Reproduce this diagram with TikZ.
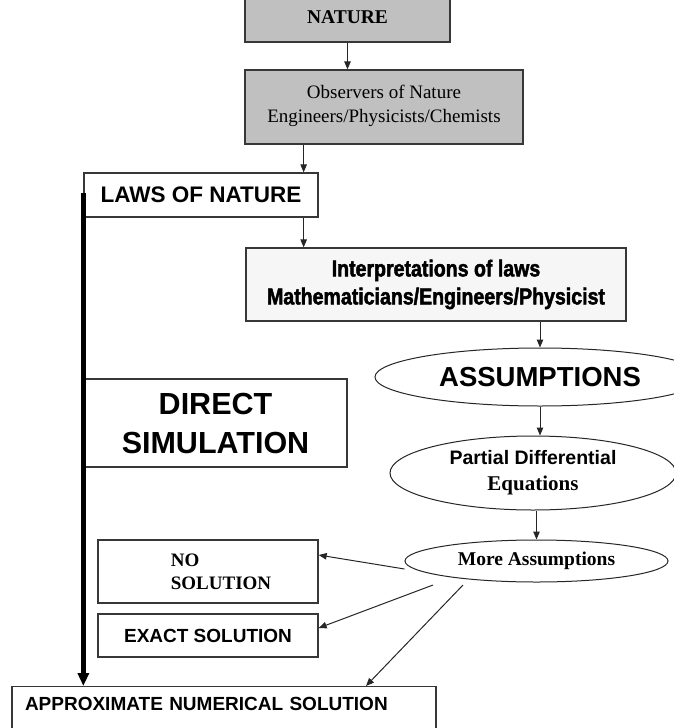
\documentclass[tikz,border=0pt]{standalone}
\usepackage{fontspec}
\setmainfont{Liberation Serif}
\newfontfamily\arialfont{Liberation Sans}
\newfontfamily\condfont[FakeStretch=0.85,FakeBold=2]{Liberation Sans}
\usetikzlibrary{arrows.meta,positioning,shapes.geometric}
\definecolor{boxgray}{RGB}{192,192,192}
\definecolor{boxlight}{RGB}{246,246,246}
\definecolor{edgegray}{RGB}{55,55,55}

\begin{document}
\begin{tikzpicture}[x=1pt, y=-1pt,
    plainbox/.style={rectangle, draw=edgegray, line width=1.3pt, inner sep=0pt, align=center},
    graybox/.style={plainbox, fill=boxgray},
    oval/.style={ellipse, draw=black!85, line width=1pt, inner sep=0pt, align=center},
    flow/.style={-{Triangle[length=8pt,width=6.5pt]}, line width=1pt, black!85},
    simflow/.style={-{Triangle[length=13pt,width=11pt]}, line width=4.5pt}
  ]
    \useasboundingbox (0,0) rectangle (674,728);
    \clip (0,0) rectangle (674,728);

    % Nature and its observers
    \node[graybox, minimum width=205pt, minimum height=50pt,
          font=\fontsize{19.5}{23}\selectfont\bfseries] (nature) at (347.5,17) {NATURE};
    \node[graybox, minimum width=278pt, minimum height=74pt, text depth=6pt,
          font=\fontsize{19}{23.5}\selectfont] (observers) at (384,107)
      {Observers of Nature\\Engineers/Physicists/Chemists};

    % Laws and interpretations
    \node[plainbox, fill=white, minimum width=234pt, minimum height=44pt,
          font=\arialfont\bfseries\fontsize{22.5}{27}\selectfont] (laws) at (201,195) {LAWS OF NATURE};
    \node[plainbox, fill=boxlight, minimum width=380pt, minimum height=73pt,
          font=\condfont\bfseries\fontsize{23}{28}\selectfont] (interp) at (436,284.5)
      {Interpretations of laws\\Mathematicians/Engineers/Physicist};

    % Assumption chain
    \node[oval, minimum width=330pt, minimum height=58pt,
          font=\arialfont\bfseries\fontsize{27.5}{30}\selectfont] (assump) at (540,377) {ASSUMPTIONS};
    \node[oval, minimum width=286pt, minimum height=74pt,
          font=\fontsize{21}{26}\selectfont\bfseries] (pde) at (533,473)
      {{\arialfont\fontsize{19.5}{26}\selectfont Partial Differential}\\Equations};
    \node[oval, minimum width=263pt, minimum height=42pt,
          font=\fontsize{19.5}{23}\selectfont\bfseries] (more) at (536.5,561) {More Assumptions};

    % Direct simulation
    \node[plainbox, minimum width=263pt, minimum height=88pt,
          font=\arialfont\bfseries\fontsize{30.5}{39}\selectfont] (direct) at (215.5,423)
      {DIRECT\\SIMULATION};

    % Solutions
    \node[plainbox, align=left, minimum width=220pt, minimum height=63pt,
          font=\fontsize{19}{23}\selectfont\bfseries] (nosol) at (208,571.5)
      {\hspace*{26pt}NO\\\hspace*{26pt}SOLUTION};
    \node[plainbox, minimum width=220pt, minimum height=43pt,
          font=\arialfont\bfseries\fontsize{19}{23}\selectfont] (exact) at (208,635.5) {EXACT SOLUTION};
    \node[plainbox, anchor=north, align=left, text width=398pt, inner xsep=13pt,
          inner ysep=11pt, text depth=30pt,
          font=\arialfont\bfseries\fontsize{19}{23}\selectfont] (approx) at (224,686)
      {APPROXIMATE NUMERICAL SOLUTION};

    % Vertical arrows
    \coordinate (lawsin) at ([xshift=-15pt]laws.north east);
    \coordinate (lawsout) at ([xshift=-15pt]laws.south east);
    \draw[flow] (nature.south) -- (nature.south |- observers.north);
    \draw[flow] (observers.south -| lawsin) -- (lawsin);
    \draw[flow] (lawsout) -- (lawsout |- interp.north);
    \draw[flow] (interp.south -| assump.north) -- (assump.north);
    \draw[flow] (assump.south) -- (assump.south |- pde.north);
    \draw[flow] (more.north |- pde.south) -- (more.north);

    % Arrows out of the last assumptions
    \coordinate (m0) at ([yshift=-8pt]more.west);
    \coordinate (m1) at (433,585);
    \coordinate (m2) at (463,585);
    \draw[flow] (m0) -- ([yshift=16.5pt]nosol.east);
    \draw[flow] (m1) -- ([yshift=7.5pt]exact.east);
    \draw[flow] (m2) -- ([xshift=142pt]approx.north);

    % Direct route
    \draw[simflow] ([yshift=2pt]laws.west) -- (laws.west |- approx.north);
  \end{tikzpicture}
\end{document}
